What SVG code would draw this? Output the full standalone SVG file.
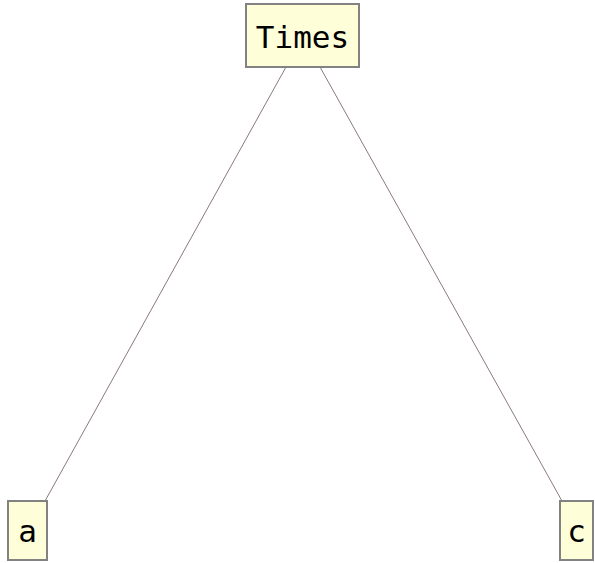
<svg xmlns="http://www.w3.org/2000/svg" width="595" height="563" viewBox="0 0 595 563">
<style>
.box{fill:#fefed8;stroke:#828282;stroke-width:2}
.lbl{font-family:"DejaVu Sans Mono",monospace;font-size:31px;fill:#000;text-anchor:middle}
.edge{stroke:#8a7a7a;stroke-width:1;fill:none}
</style>
<rect width="595" height="563" fill="#ffffff"/>
<g id="connectors">
<line class="edge" x1="286" y1="67" x2="45" y2="501"/>
<line class="edge" x1="320" y1="67" x2="562" y2="501"/>
</g>
<g id="node-times">
<rect class="box" x="246" y="4" width="113" height="63"/>
<text class="lbl" x="302.5" y="48">Times</text>
</g>
<g id="node-a">
<rect class="box" x="8" y="501" width="39" height="59"/>
<text class="lbl" x="27.5" y="542">a</text>
</g>
<g id="node-c">
<rect class="box" x="560" y="501" width="33" height="59"/>
<text class="lbl" x="576.5" y="542">c</text>
</g>
</svg>
